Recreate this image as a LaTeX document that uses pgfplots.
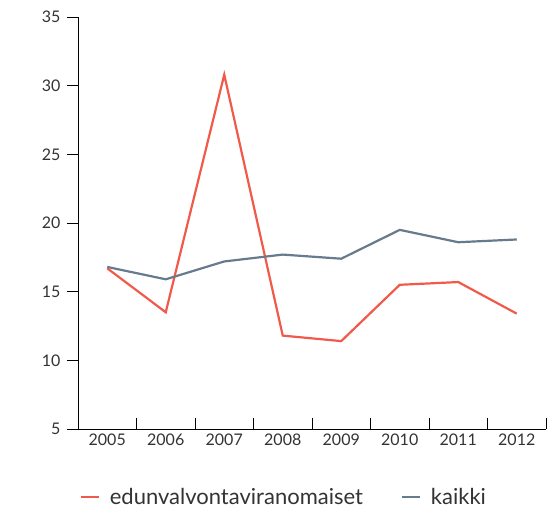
\documentclass[border=0pt]{standalone}
\usepackage{pgfplots}
\pgfplotsset{compat=1.18}
\usepackage{fontspec}
\setmainfont{Lato}
\definecolor{cred}{HTML}{F15A4A}
\definecolor{cgray}{HTML}{677B8D}
\definecolor{ctxt}{HTML}{333333}
\begin{document}
\begin{tikzpicture}
\path[use as bounding box] (-78bp,-80bp) rectangle (478bp,429bp);
\begin{axis}[
  at={(0,0)}, anchor=south west,
  scale only axis, width=468bp, height=412bp,
  xmin=-0.5, xmax=7.5, ymin=5, ymax=35,
  axis x line*=bottom, axis y line*=left,
  axis line style={black, line width=0.9bp, -},
  xtick={0,...,7},
  xticklabels={2005,2006,2007,2008,2009,2010,2011,2012},
  minor xtick={-0.5,0.5,...,7.5},
  major x tick style={draw=none},
  minor x tick style={black, line width=0.9bp},
  ytick={5,10,...,35},
  tick align=inside,
  major tick length=11bp, minor tick length=11bp,
  ytick style={black, line width=0.9bp, xshift=-11bp},
  yticklabel style={xshift=-14bp},
  xticklabel style={yshift=-1bp},
  /pgf/number format/assume math mode=true,
  /pgf/number format/1000 sep={},
  ticklabel style={font=\fontsize{16bp}{19bp}\selectfont, text=ctxt},
  legend columns=2,
  legend style={draw=none, fill=none, at={(axis description cs:0.44,-0.165)}, anchor=center,
    font=\fontsize{22bp}{25bp}\selectfont, text=ctxt,
    /tikz/every odd column/.append style={column sep=8bp},
    /tikz/every even column/.append style={column sep=36bp}},
  legend image code/.code={\draw[#1, line width=2bp] (0bp,0bp) -- (18bp,0bp);},
]
\addplot[cred, line width=2.2bp] coordinates {(0,16.7) (1,13.5) (2,30.8) (3,11.8) (4,11.4) (5,15.5) (6,15.7) (7,13.4)};
\addlegendentry{edunvalvontaviranomaiset}
\addplot[cgray, line width=2.2bp] coordinates {(0,16.8) (1,15.9) (2,17.2) (3,17.7) (4,17.4) (5,19.5) (6,18.6) (7,18.8)};
\addlegendentry{kaikki}
\end{axis}
\end{tikzpicture}
\end{document}
